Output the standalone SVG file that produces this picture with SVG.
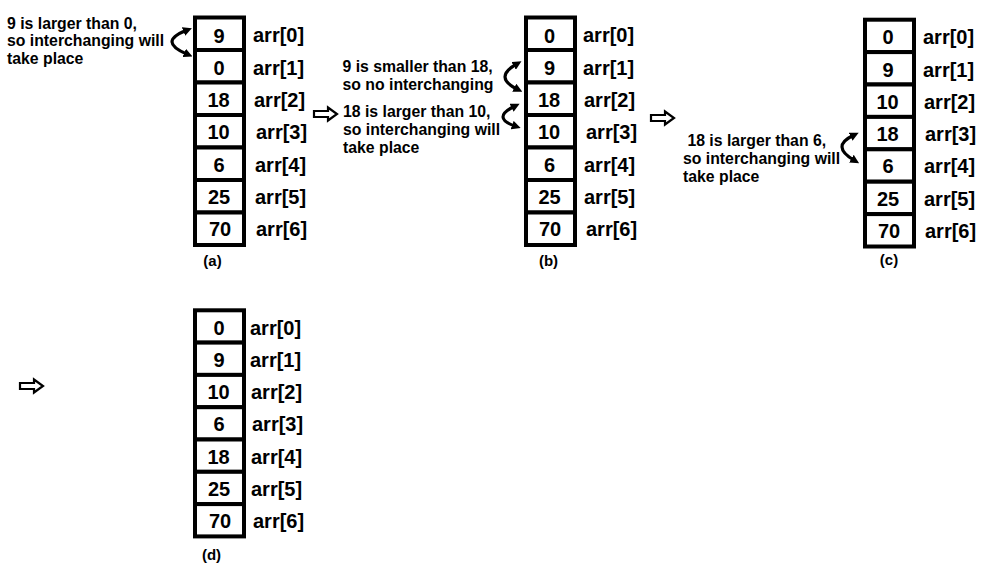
<svg xmlns="http://www.w3.org/2000/svg" width="982" height="567" viewBox="0 0 982 567">
<style>
.cell{fill:#fff;stroke:#000;stroke-width:4}
.v{font-family:"Liberation Sans",Arial,sans-serif;font-weight:bold;font-size:20px;fill:#000;text-anchor:middle}
.lbl{font-family:"Liberation Sans",Arial,sans-serif;font-weight:bold;font-size:20px;fill:#000}
.note{font-family:"Liberation Sans",Arial,sans-serif;font-weight:bold;font-size:15.8px;fill:#000}
.cap{font-family:"Liberation Sans",Arial,sans-serif;font-weight:bold;font-size:15px;fill:#000;text-anchor:middle}
.swap{fill:none;stroke:#000;stroke-width:3.2;marker-start:url(#ah);marker-end:url(#ah)}
.step{fill:#fff;stroke:#000;stroke-width:2.2;stroke-linejoin:miter}
</style>
<defs>
<marker id="ah" viewBox="0 0 10 10" refX="3" refY="5" markerWidth="9" markerHeight="9" markerUnits="userSpaceOnUse" orient="auto-start-reverse">
<path d="M0,0 L10,5 L0,10 z" fill="#000"/>
</marker>
</defs>
<rect width="982" height="567" fill="#fff"/>

<!-- column (a) -->
<g id="col-a">
<g id="a0"><rect class="cell" x="195" y="17.5" width="49" height="32.5"/><text class="v" x="219" y="42.5">9</text><text class="lbl" x="253" y="42">arr[0]</text></g>
<g id="a1"><rect class="cell" x="195" y="50" width="49" height="32.5"/><text class="v" x="219" y="75">0</text><text class="lbl" x="253" y="74.5">arr[1]</text></g>
<g id="a2"><rect class="cell" x="195" y="82.5" width="49" height="32.5"/><text class="v" x="218.5" y="106.5">18</text><text class="lbl" x="254" y="106.5">arr[2]</text></g>
<g id="a3"><rect class="cell" x="195" y="115" width="49" height="32.5"/><text class="v" x="218.5" y="139">10</text><text class="lbl" x="256" y="139">arr[3]</text></g>
<g id="a4"><rect class="cell" x="195" y="147.5" width="49" height="32.5"/><text class="v" x="219" y="171.5">6</text><text class="lbl" x="255" y="171.5">arr[4]</text></g>
<g id="a5"><rect class="cell" x="195" y="180" width="49" height="32.5"/><text class="v" x="219" y="204">25</text><text class="lbl" x="255" y="204">arr[5]</text></g>
<g id="a6"><rect class="cell" x="195" y="212.5" width="49" height="32.5"/><text class="v" x="220" y="236">70</text><text class="lbl" x="256" y="236">arr[6]</text></g>
<text class="cap" x="212.5" y="266">(a)</text>
</g>

<!-- column (b) -->
<g id="col-b">
<g id="b0"><rect class="cell" x="526" y="17.5" width="49" height="32.5"/><text class="v" x="549.5" y="42.5">0</text><text class="lbl" x="583" y="42">arr[0]</text></g>
<g id="b1"><rect class="cell" x="526" y="50" width="49" height="32.5"/><text class="v" x="549.5" y="75">9</text><text class="lbl" x="583" y="74.5">arr[1]</text></g>
<g id="b2"><rect class="cell" x="526" y="82.5" width="49" height="32.5"/><text class="v" x="549" y="106.5">18</text><text class="lbl" x="584" y="106.5">arr[2]</text></g>
<g id="b3"><rect class="cell" x="526" y="115" width="49" height="32.5"/><text class="v" x="549" y="139">10</text><text class="lbl" x="586" y="139">arr[3]</text></g>
<g id="b4"><rect class="cell" x="526" y="147.5" width="49" height="32.5"/><text class="v" x="549.5" y="171.5">6</text><text class="lbl" x="584" y="171.5">arr[4]</text></g>
<g id="b5"><rect class="cell" x="526" y="180" width="49" height="32.5"/><text class="v" x="549.5" y="204">25</text><text class="lbl" x="584" y="204">arr[5]</text></g>
<g id="b6"><rect class="cell" x="526" y="212.5" width="49" height="32.5"/><text class="v" x="550" y="236">70</text><text class="lbl" x="586" y="236">arr[6]</text></g>
<text class="cap" x="548.5" y="266">(b)</text>
</g>

<!-- column (c) -->
<g id="col-c">
<g id="c0"><rect class="cell" x="865" y="19.7" width="49" height="32.4"/><text class="v" x="888" y="44">0</text><text class="lbl" x="923" y="44">arr[0]</text></g>
<g id="c1"><rect class="cell" x="865" y="52.1" width="49" height="32.4"/><text class="v" x="888" y="76.5">9</text><text class="lbl" x="923" y="76.5">arr[1]</text></g>
<g id="c2"><rect class="cell" x="865" y="84.5" width="49" height="32.4"/><text class="v" x="887.5" y="108.5">10</text><text class="lbl" x="924" y="108.5">arr[2]</text></g>
<g id="c3"><rect class="cell" x="865" y="116.9" width="49" height="32.4"/><text class="v" x="887.5" y="141">18</text><text class="lbl" x="925" y="141">arr[3]</text></g>
<g id="c4"><rect class="cell" x="865" y="149.3" width="49" height="32.4"/><text class="v" x="888" y="173">6</text><text class="lbl" x="924" y="173">arr[4]</text></g>
<g id="c5"><rect class="cell" x="865" y="181.7" width="49" height="32.4"/><text class="v" x="888" y="205.5">25</text><text class="lbl" x="924" y="205.5">arr[5]</text></g>
<g id="c6"><rect class="cell" x="865" y="214.1" width="49" height="32.4"/><text class="v" x="889" y="238">70</text><text class="lbl" x="925" y="238">arr[6]</text></g>
<text class="cap" x="889" y="265">(c)</text>
</g>

<!-- column (d) -->
<g id="col-d">
<g id="d0"><rect class="cell" x="195" y="310.3" width="49" height="32.3"/><text class="v" x="219" y="334.5">0</text><text class="lbl" x="250" y="334.5">arr[0]</text></g>
<g id="d1"><rect class="cell" x="195" y="342.6" width="49" height="32.3"/><text class="v" x="219" y="367">9</text><text class="lbl" x="250" y="367">arr[1]</text></g>
<g id="d2"><rect class="cell" x="195" y="374.9" width="49" height="32.3"/><text class="v" x="218.5" y="399">10</text><text class="lbl" x="251" y="399">arr[2]</text></g>
<g id="d3"><rect class="cell" x="195" y="407.2" width="49" height="32.3"/><text class="v" x="219" y="431">6</text><text class="lbl" x="252" y="431">arr[3]</text></g>
<g id="d4"><rect class="cell" x="195" y="439.5" width="49" height="32.3"/><text class="v" x="218.5" y="463.5">18</text><text class="lbl" x="251" y="463.5">arr[4]</text></g>
<g id="d5"><rect class="cell" x="195" y="471.8" width="49" height="32.3"/><text class="v" x="219" y="496">25</text><text class="lbl" x="251" y="496">arr[5]</text></g>
<g id="d6"><rect class="cell" x="195" y="504.1" width="49" height="32.3"/><text class="v" x="220" y="528">70</text><text class="lbl" x="253" y="528">arr[6]</text></g>
<text class="cap" x="211.5" y="560">(d)</text>
</g>

<!-- annotations -->
<g id="note-a">
<text class="note" x="7" y="28.5">9 is larger than 0,</text>
<text class="note" x="7" y="46">so interchanging will</text>
<text class="note" x="7" y="63.5">take place</text>
</g>
<g id="note-b1">
<text class="note" x="342.5" y="72">9 is smaller than 18,</text>
<text class="note" x="342.5" y="90">so no interchanging</text>
</g>
<g id="note-b2">
<text class="note" x="343" y="116.5">18 is larger than 10,</text>
<text class="note" x="343" y="135">so interchanging will</text>
<text class="note" x="343" y="153">take place</text>
</g>
<g id="note-c">
<text class="note" x="683" y="146" xml:space="preserve"> 18 is larger than 6,</text>
<text class="note" x="683" y="164">so interchanging will</text>
<text class="note" x="683" y="182">take place</text>
</g>

<!-- connectors -->
<g id="connectors">
<path class="swap" d="M186,30.5 Q157.7,41.8 186.7,54"/>
<path class="swap" d="M516,64.5 Q493.7,77.3 516.7,89"/>
<path class="swap" d="M514,106.5 Q491.7,117.8 514.7,126"/>
<path class="swap" d="M853,135.5 Q830.7,146.3 853.7,160"/>
<path class="step" d="M314,111 h14 v-3.5 l9,6.5 l-9,6.5 v-3.5 h-14 z"/>
<path class="step" d="M651,115 h14 v-3.5 l9,6.5 l-9,6.5 v-3.5 h-14 z"/>
<path class="step" d="M20,383 h14 v-3.5 l9,6.5 l-9,6.5 v-3.5 h-14 z"/>
</g>
</svg>
